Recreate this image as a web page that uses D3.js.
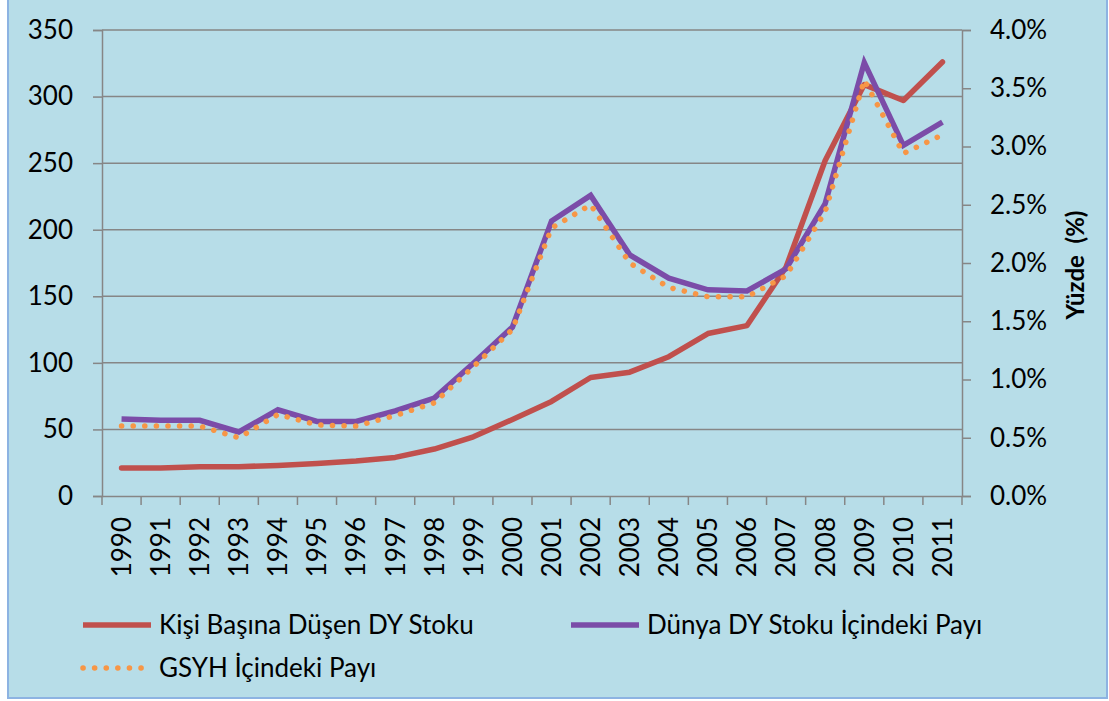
<!DOCTYPE html>
<html>
<head>
<meta charset="utf-8">
<script src="https://cdn.jsdelivr.net/npm/d3@7"></script>
<style>
  body { margin: 0; background: #fff; }
  svg text { font-family: Lato, "Open Sans", sans-serif; fill: #000; }
</style>
</head>
<body>
<div class="chart"></div>
<script>
// data
var years = ["1990","1991","1992","1993","1994","1995","1996","1997","1998","1999","2000",
             "2001","2002","2003","2004","2005","2006","2007","2008","2009","2010","2011"];
// Kişi Başına Düşen DY Stoku (left axis)
var perCapita = [21, 21, 22, 22, 23, 24.5, 26.3, 29, 35.3, 44.5, 57.5,
                 71, 89, 93, 104.6, 122, 128, 172, 252, 309, 297, 326];
// Dünya DY Stoku İçindeki Payı (%) (right axis)
var worldShare = [0.66, 0.65, 0.65, 0.55, 0.74, 0.64, 0.64, 0.73, 0.84, 1.14, 1.45,
                  2.36, 2.58, 2.07, 1.87, 1.77, 1.76, 1.95, 2.51, 3.72, 3.01, 3.21];
// GSYH İçindeki Payı (%) (right axis)
var gdpShare = [0.60, 0.60, 0.60, 0.50, 0.70, 0.61, 0.60, 0.69, 0.80, 1.11, 1.43,
                2.30, 2.50, 2.00, 1.79, 1.71, 1.71, 1.89, 2.44, 3.57, 2.94, 3.10];
var leftTicks = [0, 50, 100, 150, 200, 250, 300, 350];
var rightTicks = [0, 0.5, 1.0, 1.5, 2.0, 2.5, 3.0, 3.5, 4.0];

var W = 1109, H = 701;
var svg = d3.select(".chart").append("svg")
    .attr("width", W)
    .attr("height", H);

// background + border
svg.append("rect")
    .attr("x", 8).attr("y", -2)
    .attr("width", W - 10).attr("height", H - 1)
    .attr("fill", "#b7dde8")
    .attr("stroke", "#8db3e2")
    .attr("stroke-width", 2);

var x0 = 102, x1 = 962, yTop = 30, yBot = 496;
var gridCol = "#868686";
var fs = 26;

var x = d3.scaleBand().domain(years).range([x0, x1]).padding(0);
var yL = d3.scaleLinear().domain([0, 350]).range([yBot, yTop]);
var yR = d3.scaleLinear().domain([0, 4]).range([yBot, yTop]);

// gridlines
svg.append("g").selectAll("line")
    .data(leftTicks.slice(1))
    .enter().append("line")
    .attr("x1", x0).attr("x2", x1)
    .attr("y1", function(d) { return yL(d); })
    .attr("y2", function(d) { return yL(d); })
    .attr("stroke", gridCol).attr("stroke-width", 1.5);

// left axis
var axL = svg.append("g")
    .attr("transform", "translate(" + x0 + ",0)")
    .call(d3.axisLeft(yL).tickValues(leftTicks).tickSize(9).tickPadding(20));
// right axis
var axR = svg.append("g")
    .attr("transform", "translate(" + x1 + ",0)")
    .call(d3.axisRight(yR).tickValues(rightTicks).tickSize(9).tickPadding(19)
          .tickFormat(function(d) { return d3.format(".1f")(d) + "%"; }));
// bottom axis
var axB = svg.append("g")
    .attr("transform", "translate(0," + yBot + ")")
    .call(d3.axisBottom(x).tickSize(0).tickPadding(0));
axB.selectAll(".tick text")
    .attr("transform", "rotate(-90)")
    .attr("text-anchor", "end")
    .attr("x", -21)
    .attr("y", 0)
    .attr("dy", "0.36em");
// category boundary ticks
svg.append("g").selectAll("line")
    .data(years.concat(["end"]))
    .enter().append("line")
    .attr("x1", function(d, i) { return x0 + i * x.bandwidth(); })
    .attr("x2", function(d, i) { return x0 + i * x.bandwidth(); })
    .attr("y1", yBot).attr("y2", yBot + 9)
    .attr("stroke", gridCol).attr("stroke-width", 1.5);

[axL, axR, axB].forEach(function(a) {
  a.selectAll(".domain").attr("stroke", gridCol).attr("stroke-width", 1.5);
  a.selectAll(".tick line").attr("stroke", gridCol).attr("stroke-width", 1.5);
  a.selectAll("text").attr("font-size", fs).attr("font-family", "Lato, 'Open Sans', sans-serif").attr("fill", "#000");
});

// right axis title
svg.append("text")
    .attr("transform", "translate(1084,265) rotate(-90)")
    .attr("text-anchor", "middle")
    .attr("font-size", 24)
    .attr("font-weight", "bold")
    .attr("xml:space", "preserve")
    .text("Yüzde  (%)");

var cx = function(d, i) { return x(years[i]) + x.bandwidth() / 2; };

var lineL = d3.line().x(cx).y(function(d) { return yL(d); });
var lineR = d3.line().x(cx).y(function(d) { return yR(d); });

svg.append("path")
    .attr("d", lineL(perCapita))
    .attr("fill", "none")
    .attr("stroke", "#c0504d")
    .attr("stroke-width", 5.5)
    .attr("stroke-linejoin", "round")
    .attr("stroke-linecap", "round");

svg.append("path")
    .attr("d", lineR(worldShare))
    .attr("fill", "none")
    .attr("stroke", "#7b4ca8")
    .attr("stroke-width", 5.5)
    .attr("stroke-linejoin", "miter");

svg.append("path")
    .attr("d", lineR(gdpShare))
    .attr("fill", "none")
    .attr("stroke", "#f79646")
    .attr("stroke-width", 5.5)
    .attr("stroke-dasharray", "0.1 11.5")
    .attr("stroke-linecap", "round");

// legend
var legend = [
  { name: "Kişi Başına Düşen DY Stoku", color: "#c0504d", dash: null, lx: 83, ly: 625 },
  { name: "Dünya DY Stoku İçindeki Payı", color: "#7b4ca8", dash: null, lx: 571, ly: 625 },
  { name: "GSYH İçindeki Payı", color: "#f79646", dash: "0.1 11.5", lx: 83, ly: 668 }
];
var lg = svg.append("g").selectAll("g").data(legend).enter().append("g");
lg.append("line")
    .attr("x1", function(d) { return d.lx; })
    .attr("x2", function(d) { return d.lx + 68; })
    .attr("y1", function(d) { return d.ly; })
    .attr("y2", function(d) { return d.ly; })
    .attr("stroke", function(d) { return d.color; })
    .attr("stroke-width", 5.5)
    .attr("stroke-dasharray", function(d) { return d.dash; })
    .attr("stroke-linecap", function(d) { return d.dash ? "round" : "butt"; });
lg.append("text")
    .attr("x", function(d) { return d.lx + 76; })
    .attr("y", function(d) { return d.ly; })
    .attr("dy", "0.35em")
    .attr("font-size", fs)
    .text(function(d) { return d.name; });
</script>
</body>
</html>
